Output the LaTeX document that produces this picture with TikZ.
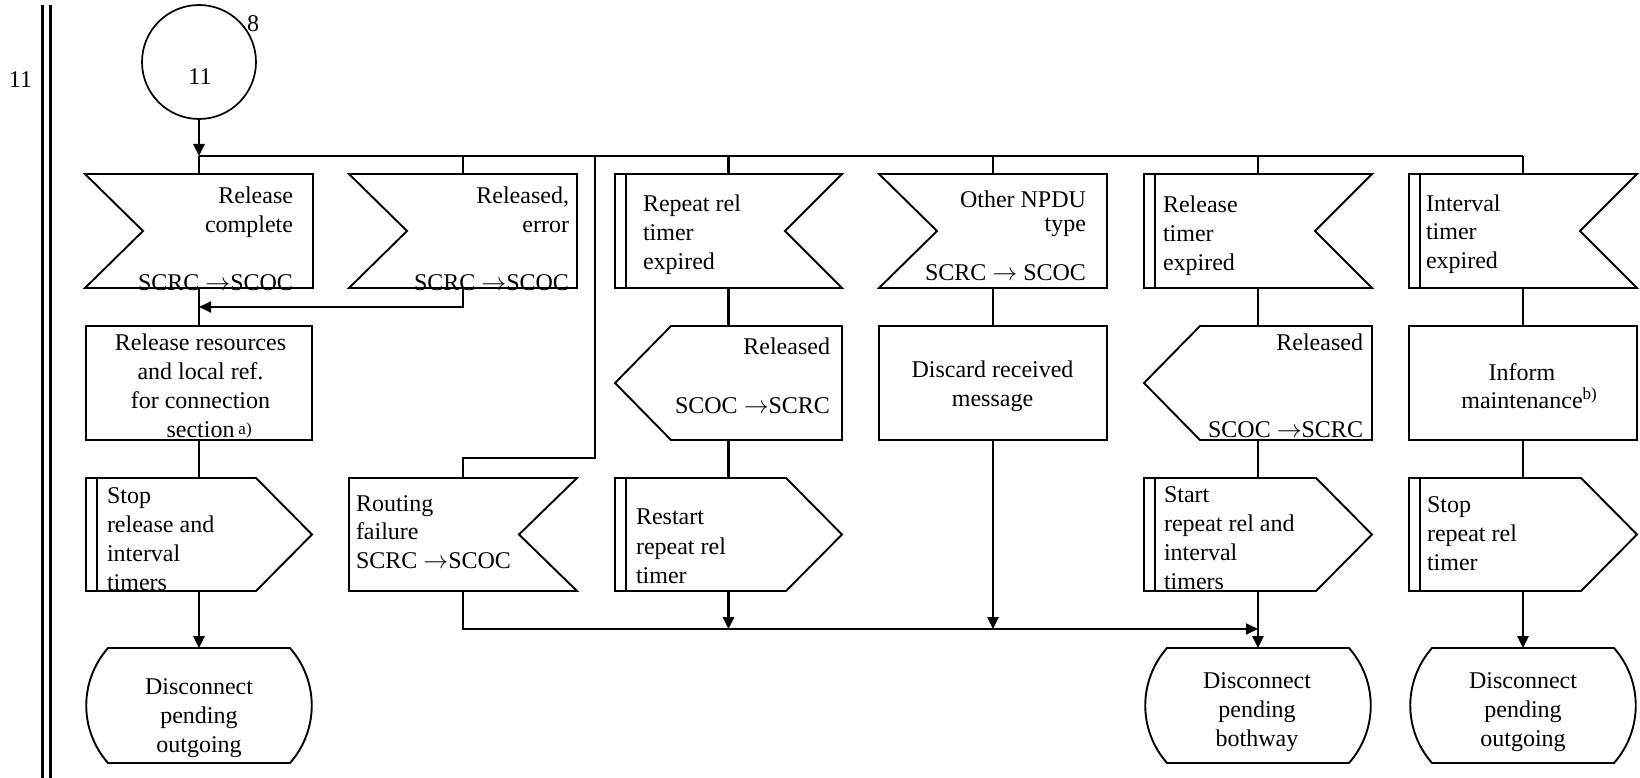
\documentclass[tikz,border=0pt]{standalone}
\usepackage{fontspec}
\setmainfont{Liberation Serif}
\usetikzlibrary{arrows.meta}
\begin{document}
\begin{tikzpicture}[x=1pt,y=-1pt,
  box/.style={rectangle,inner sep=0,outer sep=0},
  outl/.style={line width=1.9pt,line join=miter},
  barl/.style={line width=2.7pt},
  conn/.style={line width=2.6pt},
  fb/.style={line width=1.8pt},
  arr/.style={-{Triangle[length=12pt,width=11pt]}},
  txt/.style={inner sep=0,outer sep=0,yshift=-2pt,font=\fontsize{24}{28.7}\selectfont}]
\useasboundingbox (0,0) rectangle (1640,778);

% left double rule and page label
\draw[line width=2.7pt] (42.7,5) -- (42.7,778);
\draw[line width=2.7pt] (50.7,5) -- (50.7,778);
\node[txt,anchor=base] (lbl) at (20.5,86) {11};

% connector circle
\node[circle,draw,line width=1.7pt,minimum size=114pt,inner sep=0,outer sep=0] (circ) at (199,62) {};
\node[txt,anchor=base] (circt) at (200,83) {11};
\node[txt,anchor=base] (circn) at (253,30) {8};

% ---------- geometry nodes ----------
% top row
\node[box,minimum width=228pt,minimum height=114pt] (s1) at (199,231) {};
\node[box,minimum width=228pt,minimum height=114pt] (s2) at (463,231) {};
\node[box,minimum width=227pt,minimum height=114pt] (s3) at (728.5,231) {};
\node[box,minimum width=228pt,minimum height=114pt] (s4) at (993,231) {};
\node[box,minimum width=228pt,minimum height=114pt] (s5) at (1258,231) {};
\node[box,minimum width=228pt,minimum height=114pt] (s6) at (1523,231) {};
% middle row
\node[box,draw,outl,minimum width=226pt,minimum height=114pt] (r1) at (199,383) {};
\node[box,minimum width=227pt,minimum height=114pt] (o1) at (728.5,383) {};
\node[box,draw,outl,minimum width=228pt,minimum height=114pt] (d1) at (993,383) {};
\node[box,minimum width=228pt,minimum height=114pt] (o2) at (1258,383) {};
\node[box,draw,outl,minimum width=228pt,minimum height=114pt] (m1) at (1523,383) {};
% bottom row
\node[box,minimum width=226pt,minimum height=113pt] (t1) at (199,534.5) {};
\node[box,minimum width=228pt,minimum height=113pt] (r2) at (463,534.5) {};
\node[box,minimum width=227pt,minimum height=113pt] (t2) at (728.5,534.5) {};
\node[box,minimum width=228pt,minimum height=113pt] (t3) at (1258,534.5) {};
\node[box,minimum width=228pt,minimum height=113pt] (t4) at (1523,534.5) {};
% terminals
\node[box,minimum width=228pt,minimum height=115pt] (e1) at (199,705.5) {};
\node[box,minimum width=228pt,minimum height=115pt] (e2) at (1258,705.5) {};
\node[box,minimum width=228pt,minimum height=115pt] (e3) at (1523,705.5) {};

% ---------- outlines ----------
% input signals (notch on the left)
\foreach \n in {s1,s2,s4}
  \draw[outl] (\n.north west) -- (\n.north east) -- (\n.south east) -- (\n.south west) -- ([xshift=58pt]\n.west) -- cycle;
% timer inputs (notch on the right, bar on the left)
\foreach \n in {s3,s5,s6}{
  \draw[outl] (\n.north west) -- (\n.north east) -- ([xshift=-57pt]\n.east) -- (\n.south east) -- (\n.south west) -- cycle;
  \draw[barl] ([xshift=11pt]\n.north west) -- ([xshift=11pt]\n.south west);
}
% routing failure input (notch on the right)
\draw[outl] (r2.north west) -- (r2.north east) -- ([xshift=-58pt]r2.east) -- (r2.south east) -- (r2.south west) -- cycle;
% output signals (point on the left)
\foreach \n in {o1,o2}
  \draw[outl] ([xshift=56pt]\n.north west) -- (\n.north east) -- (\n.south east) -- ([xshift=56pt]\n.south west) -- (\n.west) -- cycle;
% timer outputs (point on the right, bar on the left)
\foreach \n in {t1,t2,t3,t4}{
  \draw[outl] (\n.north west) -- ([xshift=-56pt]\n.north east) -- (\n.east) -- ([xshift=-56pt]\n.south east) -- (\n.south west) -- cycle;
  \draw[barl] ([xshift=11pt]\n.north west) -- ([xshift=11pt]\n.south west);
}
% terminal states
\foreach \n in {e1,e2,e3}
  \draw[outl] ([xshift=23pt]\n.north west) -- ([xshift=-23pt]\n.north east)
    .. controls ([xshift=6pt,yshift=-33pt]\n.north east) and ([xshift=6pt,yshift=33pt]\n.south east) .. ([xshift=-23pt]\n.south east)
    -- ([xshift=23pt]\n.south west)
    .. controls ([xshift=-6pt,yshift=33pt]\n.south west) and ([xshift=-6pt,yshift=-33pt]\n.north west) .. ([xshift=23pt]\n.north west) -- cycle;

% ---------- connectors ----------
\coordinate (b1) at (199,156);
\coordinate (bE) at (1523,156);
\coordinate (k0) at (595,156);
\coordinate (k1) at (595,458);
\coordinate (j1) at (199,307);
\coordinate (j2) at (1258,629);

\draw[conn,arr] (circ.south) -- (b1);
\draw[conn] (b1) -- (s1.north);
\draw[conn] (b1) -- (bE);
\draw[fb] (s2.north |- b1) -- (s2.north);
\draw[conn] (s3.north |- b1) -- (s3.north);
\draw[conn] (s4.north |- b1) -- (s4.north);
\draw[conn] (s5.north |- b1) -- (s5.north);
\draw[conn] (bE) -- (s6.north);

\draw[conn] (s1.south) -- (r1.north);
\draw[conn] (r1.south) -- (t1.north);
\draw[conn,arr] (t1.south) -- (e1.north);
\draw[fb,arr] (s2.south) |- (j1);
\draw[fb] (k0) -- (k1) -| (r2.north);
\draw[fb,arr] (r2.south) |- (j2);

\draw[conn] (s3.south) -- (o1.north);
\draw[conn] (o1.south) -- (t2.north);
\draw[conn,arr] (t2.south) -- (t2.south |- j2);

\draw[conn] (s4.south) -- (d1.north);
\draw[conn,arr] (d1.south) -- (d1.south |- j2);

\draw[conn] (s5.south) -- (o2.north);
\draw[conn] (o2.south) -- (t3.north);
\draw[conn,arr] (t3.south) -- (e2.north);

\draw[conn] (s6.south) -- (m1.north);
\draw[conn] (m1.south) -- (t4.north);
\draw[conn,arr] (t4.south) -- (e3.north);

% ---------- texts ----------
\node[txt,align=right,anchor=base east] (s1t) at (293,288) {Release\\complete\\\mbox{}\\SCRC $\rightarrow$SCOC};
\node[txt,align=right,anchor=base east] (s2t) at (569,288) {Released,\\error\\\mbox{}\\SCRC $\rightarrow$SCOC};
\node[txt,align=left,anchor=base west] (s3t) at (643,267) {Repeat rel\\timer\\expired};
\node[txt,align=right,anchor=base east,font=\fontsize{24}{24.2}\selectfont] (s4t) at (1086,278) {Other NPDU\\type\\\mbox{}\\SCRC $\rightarrow$ SCOC};
\node[txt,align=left,anchor=base west] (s5t) at (1163,268) {Release\\timer\\expired};
\node[txt,align=left,anchor=base west] (s6t) at (1426,266.5) {Interval\\timer\\expired};

\node[txt,align=center,anchor=base] (r1t) at (200.5,435) {Release resources\\and local ref.\\for connection\\section\rlap{\,\raisebox{3pt}{\fontsize{17}{17}\selectfont a)}}};
\node[txt,align=right,anchor=base east,font=\fontsize{24}{29.7}\selectfont] (o1t) at (830,411.5) {Released\\\mbox{}\\SCOC $\rightarrow$SCRC};
\node[txt,align=center,anchor=base,font=\fontsize{24}{29}\selectfont] (d1t) at (992.5,404) {Discard received\\message};
\node[txt,align=right,anchor=base east,font=\fontsize{24}{28.9}\selectfont] (o2t) at (1363,435) {Released\\\mbox{}\\\mbox{}\\SCOC $\rightarrow$SCRC};
\node[txt,align=center,anchor=base,font=\fontsize{24}{28.4}\selectfont] (m1t) at (1522,406.7) {Inform\\maintenance\rlap{\raisebox{9pt}{\fontsize{17}{17}\selectfont b)}}};

\node[txt,align=left,anchor=base west] (t1t) at (107,588) {Stop\\release and\\interval\\timers};
\node[txt,align=left,anchor=base west] (r2t) at (356,566.5) {Routing\\failure\\SCRC $\rightarrow$SCOC};
\node[txt,align=left,anchor=base west,font=\fontsize{24}{29.5}\selectfont] (t2t) at (636,581.5) {Restart\\repeat rel\\timer};
\node[txt,align=left,anchor=base west] (t3t) at (1164,587) {Start\\repeat rel and\\interval\\timers};
\node[txt,align=left,anchor=base west] (t4t) at (1427,568) {Stop\\repeat rel\\timer};

\node[txt,align=center,anchor=base] (e1t) at (199,750) {Disconnect\\pending\\outgoing};
\node[txt,align=center,anchor=base] (e2t) at (1257,744) {Disconnect\\pending\\bothway};
\node[txt,align=center,anchor=base] (e3t) at (1523,744) {Disconnect\\pending\\outgoing};
\end{tikzpicture}
\end{document}
